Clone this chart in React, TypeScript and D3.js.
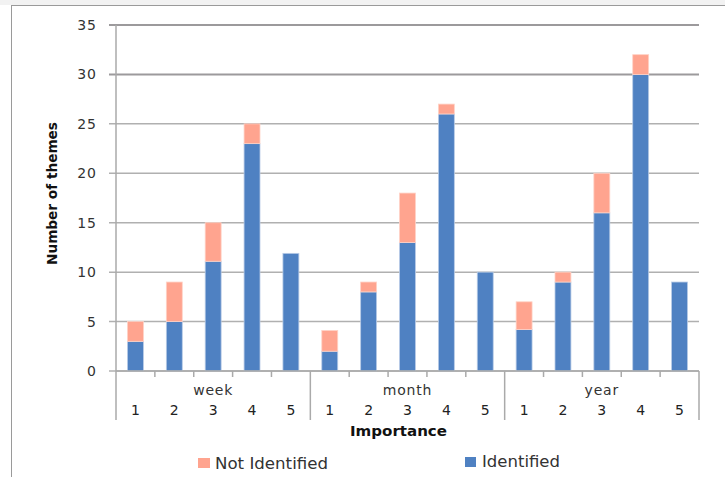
import React from "react";
import * as d3 from "d3";

const groups = ["week", "month", "year"];
const importance = ["1", "2", "3", "4", "5"];
const identified = [3, 5, 11.1, 23, 11.9, 2, 8, 13, 26, 10, 4.2, 9, 16, 30, 9];
const notIdentified = [2, 4, 3.9, 2, 0, 2.1, 1, 5, 1, 0, 2.8, 1, 4, 2, 0];
const yTicks = [0, 5, 10, 15, 20, 25, 30, 35];
const seriesNames = ["Identified", "Not Identified"];
const colors = ["#4F81C2", "#FFA48F"];

const W = 725, H = 477;
const left = 116, right = 699, top = 25, bottom = 371;
const font = "'DejaVu Sans', Verdana, sans-serif";

export default function App() {
  const keys = groups.flatMap((g) => importance.map((i) => `${g}-${i}`));
  const rows = keys.map((k, idx) => ({ key: k, Identified: identified[idx], "Not Identified": notIdentified[idx] }));
  const stacked = d3.stack<any>().keys(seriesNames)(rows);
  const x = d3.scaleBand().domain(keys).range([left, right]).paddingInner(0.59).paddingOuter(0.295);
  const y = d3.scaleLinear().domain([0, 35]).range([bottom, top]);
  const step = x.step();
  const groupX = (gi: number) => left + gi * step * importance.length;

  return (
    <svg width={W} height={H} style={{ position: "absolute", left: 0, top: 0, background: "#fff" }} fontFamily={font}>
      <rect x={0} y={0} width={W} height={5} fill="#f2f2f2" />
      <rect x={11.5} y={5.5} width={W + 20} height={H + 20} fill="#fff" stroke="#9a9a9a" strokeWidth={1} />
      {yTicks.map((t) => (
        <g key={t}>
          <line x1={109} x2={right} y1={y(t)} y2={y(t)} stroke={t >= 30 ? "#9c9a9c" : "#b0b0b0"} strokeWidth={t >= 30 ? 2 : 1.5} />
          <text x={97} y={y(t)} dy="0.36em" textAnchor="end" fontSize={14} letterSpacing={1} fill="#333">{t}</text>
        </g>
      ))}
      <line x1={left} x2={left} y1={top} y2={420} stroke="#aaa" strokeWidth={1.5} />
      {stacked.map((s, si) => (
        <g key={s.key}>
          {s.map((d, i) =>
            d[1] - d[0] > 0 ? (
              <rect key={i} x={x(keys[i])!} width={x.bandwidth()} y={y(d[1])} height={y(d[0]) - y(d[1])}
                fill={colors[si]} stroke={si === 0 ? "#b8cbe6" : "#ffd2c6"} strokeWidth={0.8} />
            ) : null
          )}
        </g>
      ))}
      {keys.map((k, i) =>
        i % 5 !== 0 ? (
          <line key={k} x1={x(k)! - (step - x.bandwidth()) / 2} x2={x(k)! - (step - x.bandwidth()) / 2} y1={bottom} y2={377} stroke="#aaa" strokeWidth={1.5} />
        ) : null
      )}
      {groups.map((g, gi) => (
        <g key={g}>
          <line x1={groupX(gi + 1)} x2={groupX(gi + 1)} y1={bottom} y2={420} stroke="#aaa" strokeWidth={1.5} />
          <text x={groupX(gi) + (step * 5) / 2} y={395} textAnchor="middle" fontSize={14} letterSpacing={0.8} fill="#333">{g}</text>
          {importance.map((im) => (
            <text key={im} x={x(`${g}-${im}`)! + x.bandwidth() / 2} y={415} textAnchor="middle" fontSize={14} fill="#222">{im}</text>
          ))}
        </g>
      ))}
      <line x1={left} x2={right} y1={bottom} y2={bottom} stroke="#aaa" strokeWidth={1.5} />
      <text x={350} y={436} textLength={97} lengthAdjust="spacingAndGlyphs" fontSize={14} fontWeight="bold" fill="#111">Importance</text>
      <text transform={`translate(57,265) rotate(-90)`} textLength={143} lengthAdjust="spacingAndGlyphs" fontSize={14} fontWeight="bold" fill="#111">Number of themes</text>
      <rect x={198} y={458} width={12} height={10} fill={colors[1]} />
      <text x={215} y={469} textLength={113} lengthAdjust="spacingAndGlyphs" fontSize={15} fill="#333">Not Identified</text>
      <rect x={465} y={457} width={11} height={10} fill={colors[0]} />
      <text x={482} y={467} textLength={78} lengthAdjust="spacingAndGlyphs" fontSize={15} fill="#333">Identified</text>
    </svg>
  );
}
